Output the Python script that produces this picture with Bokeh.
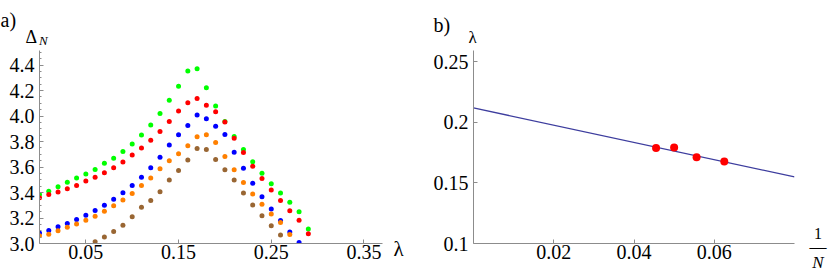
from bokeh.plotting import figure
from bokeh.models import Range1d, FixedTicker, Label, CustomJSTickFormatter
from bokeh.layouts import row
from bokeh.embed import file_html
from bokeh.resources import INLINE

nan = float("nan")

# ---------------- data: panel a) ----------------
lam = [0.00, 0.01, 0.02, 0.03, 0.04, 0.05, 0.06, 0.07, 0.08, 0.09,
       0.10, 0.11, 0.12, 0.13, 0.14, 0.15, 0.16, 0.17, 0.18, 0.19,
       0.20, 0.21, 0.22, 0.23, 0.24, 0.25, 0.26, 0.27, 0.28, 0.29]

delta_green = [3.385, 3.41, 3.445, 3.48, 3.515, 3.545, 3.58, 3.63, 3.67, 3.722,
               3.782, 3.852, 3.93, 4.02, 4.125, 4.235, 4.354, 4.372, 4.223, 4.08,
               3.958, 3.84, 3.737, 3.642, 3.552, 3.47, 3.396, 3.324, 3.25, 3.113]
delta_red = [3.36, 3.385, 3.405, 3.43, 3.455, 3.49, 3.52, 3.555, 3.595, 3.64,
             3.695, 3.75, 3.81, 3.88, 3.958, 4.04, 4.105, 4.138, 4.086, 4.035,
             3.953, 3.827, 3.714, 3.606, 3.51, 3.42, 3.337, 3.257, 3.183, 3.077]
delta_blue = [3.082, 3.103, 3.131, 3.157, 3.188, 3.221, 3.26, 3.30, 3.347, 3.398,
              3.455, 3.52, 3.595, 3.677, 3.773, 3.853, 3.927, 4.009, 3.98, 3.92,
              3.855, 3.716, 3.59, 3.473, 3.367, 3.27, 3.18, 3.09, 3.008, nan]
delta_orange = [3.06, 3.072, 3.10, 3.128, 3.154, 3.183, 3.213, 3.254, 3.296, 3.342,
                3.393, 3.456, 3.515, 3.587, 3.65, 3.705, 3.768, 3.837, 3.853, 3.792,
                3.683, 3.578, 3.478, 3.388, 3.308, 3.231, 3.165, 3.07, nan, nan]
delta_brown = [nan, nan, nan, nan, nan, nan, 3.013, 3.052, 3.095, 3.144,
               3.21, 3.285, 3.337, 3.406, 3.498, 3.573, 3.655, 3.745, 3.737, 3.66,
               3.578, 3.498, 3.396, 3.303, 3.218, 3.139, 3.067, nan, nan, nan]

series_a = [("#00ff00", delta_green), ("#ff0000", delta_red), ("#0000ff", delta_blue),
            ("#ff8000", delta_orange), ("#996633", delta_brown)]

xticks_a = [0.05, 0.15, 0.25, 0.35]
yticks_a = [3.0, 3.2, 3.4, 3.6, 3.8, 4.0, 4.2, 4.4]
yminor_a = [3.05, 3.1, 3.15, 3.25, 3.3, 3.35, 3.45, 3.5, 3.55, 3.65, 3.7, 3.75,
            3.85, 3.9, 3.95, 4.05, 4.1, 4.15, 4.25, 4.3, 4.35, 4.45, 4.5]

# ---------------- data: panel b) ----------------
inv_N = [0.0455, 0.0500, 0.0556, 0.0625]
lam_c = [0.1788, 0.1793, 0.1712, 0.1678]
fit_x = [0.0, 0.08]
fit_y = [0.212, 0.155]

xticks_b = [0.02, 0.04, 0.06]
yticks_b = [0.1, 0.15, 0.2, 0.25]

FONT = "'Liberation Serif', 'Times New Roman', serif"
AXC = "#8c8c8c"
TICK_FS = "20px"

H = 272
# panel a geometry (width, left, right, top, bottom borders)
W1, L1, R1, T1, B1 = 420, 39, 38, 50, 25
XA = (0.0, 0.37)
YA = (3.0, 4.515)
# panel b geometry
W2, L2, R2, T2, B2 = 410, 53, 36, 45, 29
XB = (0.0, 0.08)
YB = (0.1, 0.2594)


def to_data(fx, fy, g):
    L, R, T, B, W, xr, yr = g
    fw = W - L - R
    fh = H - T - B
    x = xr[0] + (fx - L) / fw * (xr[1] - xr[0])
    y = yr[1] - (fy - T) / fh * (yr[1] - yr[0])
    return x, y


def style(p):
    p.outline_line_color = None
    p.grid.visible = False
    p.background_fill_color = "white"
    p.border_fill_color = "white"
    for ax in (p.xaxis[0], p.yaxis[0]):
        ax.axis_line_color = AXC
        ax.axis_line_width = 1
        ax.major_tick_line_color = AXC
        ax.minor_tick_line_color = AXC
        ax.major_tick_in = 4
        ax.major_tick_out = 0
        ax.minor_tick_in = 2
        ax.minor_tick_out = 0
        ax.major_label_text_font = FONT
        ax.major_label_text_font_size = TICK_FS
        ax.major_label_text_color = "black"
    p.xaxis.major_label_standoff = 1
    p.yaxis.major_label_standoff = 5


def label(p, g, side, fx, fy, text, size="20px", style_="normal", align="left"):
    x, y = to_data(fx, fy, g)
    p.add_layout(Label(x=x, y=y, text=text, text_font=FONT, text_font_size=size,
                       text_font_style=style_, text_align=align,
                       text_baseline="alphabetic", text_color="black"), side)


# ---------------- panel a ----------------
p1 = figure(width=W1, height=H, x_range=Range1d(*XA), y_range=Range1d(*YA),
            output_backend="svg", toolbar_location=None,
            min_border_left=L1, min_border_right=R1, min_border_top=T1, min_border_bottom=B1)
style(p1)
p1.xaxis.ticker = FixedTicker(ticks=xticks_a, minor_ticks=[])
p1.yaxis.ticker = FixedTicker(ticks=yticks_a, minor_ticks=yminor_a)
p1.xaxis.formatter = CustomJSTickFormatter(code="return tick.toFixed(2);")
p1.yaxis.formatter = CustomJSTickFormatter(code="return tick.toFixed(1);")

for color, vals in series_a:
    p1.scatter(lam, vals, size=5, fill_color=color, line_color=None)

ga = (L1, R1, T1, B1, W1, XA, YA)
label(p1, ga, "above", 0, 19, "a)", size="20px")
label(p1, ga, "above", 25, 36.5, "\u0394", size="18px")
label(p1, ga, "right", 38.5, 39.5, "N", size="13px", style_="italic")
label(p1, ga, "right", 393, 253, "\u03bb", size="21px")

# ---------------- panel b ----------------
p2 = figure(width=W2, height=H, x_range=Range1d(*XB), y_range=Range1d(*YB),
            output_backend="svg", toolbar_location=None,
            min_border_left=L2, min_border_right=R2, min_border_top=T2, min_border_bottom=B2)
style(p2)
p2.xaxis.ticker = FixedTicker(ticks=xticks_b, minor_ticks=[])
p2.yaxis.ticker = FixedTicker(ticks=yticks_b, minor_ticks=[])
p2.xaxis.formatter = CustomJSTickFormatter(code="return tick.toFixed(2);")
p2.yaxis.formatter = CustomJSTickFormatter(code="return String(Number(tick.toFixed(3)));")

p2.line(fit_x, fit_y, line_color="#3d3d9e", line_width=1.3)
p2.scatter(inv_N, lam_c, size=8, fill_color="#ff0000", line_color=None)

gb = (L2, R2, T2, B2, W2, XB, YB)
label(p2, gb, "above", 13, 18.5, "b)", size="20px")
label(p2, gb, "left", 48, 31.5, "\u03bb", size="17px")
label(p2, gb, "right", 397.5, 233, "1", size="16px", align="center")
label(p2, gb, "right", 397.5, 246.5, "\u2014", size="17px", align="center")
label(p2, gb, "right", 397.5, 262, "N", size="17px", style_="italic", align="center")

layout = row(p1, p2)
open("out.html", "w").write(file_html(layout, INLINE))
